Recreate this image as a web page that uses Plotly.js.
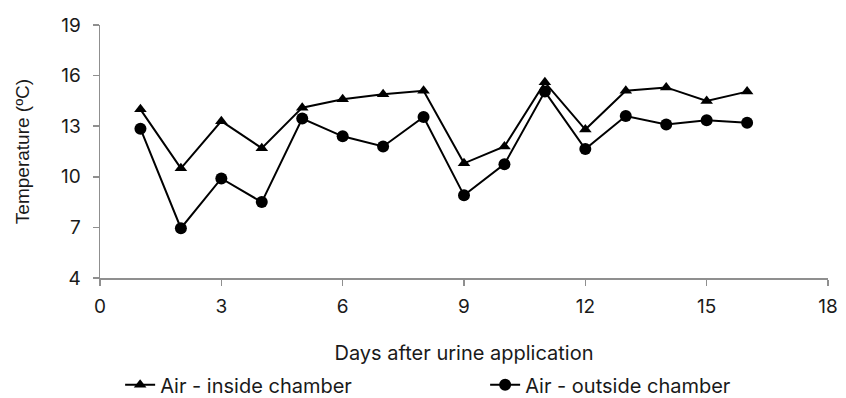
<!DOCTYPE html>
<html>
<head>
<meta charset="utf-8">
<script src="https://cdn.plot.ly/plotly-3.0.1.min.js"></script>
<style>
  html, body { margin: 0; padding: 0; background: #fff; }
  #chart { width: 846px; height: 398px; }
</style>
</head>
<body>
<div id="chart"></div>
<script>
// Daily air temperature after urine application
const days = [1, 2, 3, 4, 5, 6, 7, 8, 9, 10, 11, 12, 13, 14, 15, 16];
const airInside = [14.0, 10.5, 13.3, 11.7, 14.1, 14.6, 14.9, 15.1, 10.8, 11.8, 15.6, 12.8, 15.1, 15.3, 14.5, 15.05];
const airOutside = [12.85, 6.95, 9.9, 8.5, 13.45, 12.4, 11.8, 13.55, 8.9, 10.75, 15.05, 11.65, 13.6, 13.1, 13.35, 13.2];
const xTicks = [0, 3, 6, 9, 12, 15, 18];
const yTicks = [4, 7, 10, 13, 16, 19];

const wideFont = 'Inter, DejaVu Sans, sans-serif';
const yTitleFont = 'Liberation Sans, Arial, sans-serif';
const textColor = '#1a1a1a';
const axisColor = '#8f8f8f';
// non-breaking padding that nudges the y-axis title below the plot centre
const pad = n => '\u00a0'.repeat(n);

const traces = [
  {
    x: days, y: airInside, name: 'Air - inside chamber',
    type: 'scatter', mode: 'lines+markers',
    line: { color: '#000', width: 2 },
    marker: { symbol: 'triangle-up', size: 11, color: '#000' }
  },
  {
    x: days, y: airOutside, name: 'Air - outside chamber',
    type: 'scatter', mode: 'lines+markers',
    line: { color: '#000', width: 2 },
    marker: { symbol: 'circle', size: 12, color: '#000' }
  }
];

const layout = {
  width: 846, height: 398,
  margin: { l: 100, r: 18, t: 25, b: 120 },
  paper_bgcolor: '#fff', plot_bgcolor: '#fff',
  font: { family: wideFont, size: 20, color: textColor },
  showlegend: true,
  legend: {
    orientation: 'h',
    xref: 'container', x: 0.142, xanchor: 'left',
    yref: 'container', y: 0.033, yanchor: 'middle',
    entrywidth: 320, entrywidthmode: 'pixels',
    font: { family: wideFont, size: 20, color: textColor }
  },
  xaxis: {
    range: [0, 18], tickvals: xTicks, ticktext: xTicks.map(String),
    showgrid: false, zeroline: false,
    showline: true, linecolor: axisColor, linewidth: 1.5,
    ticks: 'outside', ticklen: 6, tickcolor: axisColor, tickwidth: 1.5,
    ticklabelstandoff: 5,
    tickfont: { family: wideFont, size: 19, color: textColor },
    title: { text: 'Days after urine application', standoff: 28,
             font: { family: wideFont, size: 20, color: textColor } }
  },
  yaxis: {
    range: [4, 19], tickvals: yTicks, ticktext: yTicks.map(String),
    showgrid: false, zeroline: false,
    showline: true, linecolor: axisColor, linewidth: 1.5,
    ticks: 'outside', ticklen: 6, tickcolor: axisColor, tickwidth: 1.5,
    ticklabelstandoff: 8,
    tickfont: { family: wideFont, size: 19, color: textColor },
    title: { text: 'Temperature (ºC)' + pad(5), standoff: 26,
             font: { family: yTitleFont, size: 19, color: textColor } }
  }
};

Plotly.newPlot('chart', traces, layout, { displayModeBar: false, staticPlot: true });
</script>
</body>
</html>
